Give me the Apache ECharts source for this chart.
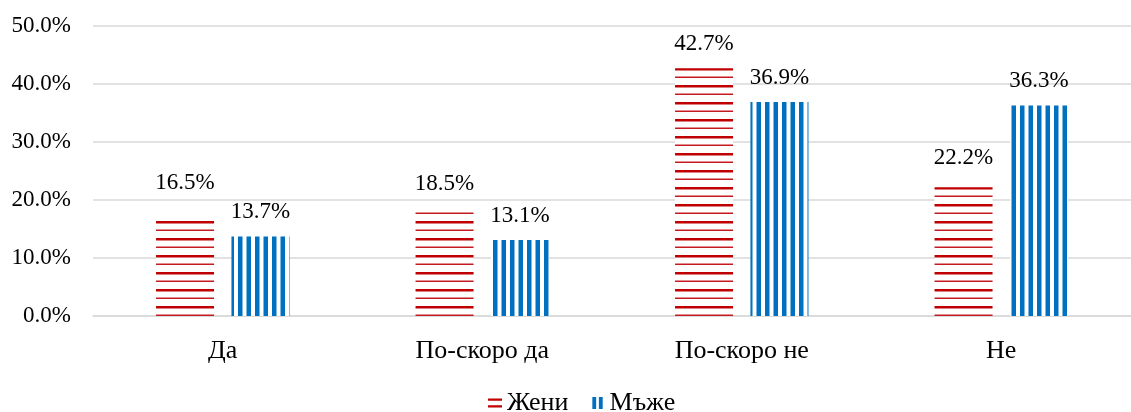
<!DOCTYPE html>
<html>
<head>
<meta charset="utf-8">
<script src="https://cdn.jsdelivr.net/npm/echarts@6/dist/echarts.min.js"></script>
<style>
  html, body { margin: 0; padding: 0; background: #fff; }
  #chart { width: 1131px; height: 412px; }
</style>
</head>
<body>
<div id="chart"></div>
<script>
// данни
var categories = ['Да', 'По-скоро да', 'По-скоро не', 'Не'];
var women = [16.5, 18.5, 42.7, 22.2];
var men = [13.7, 13.1, 36.9, 36.3];
var yTicks = [0, 10, 20, 30, 40, 50];

var fontFam = '"Liberation Serif", "DejaVu Serif", serif';

// шарка на червените колони - хоризонтални линии
function hatchRed() {
  var c = document.createElement('canvas');
  c.width = 8; c.height = 17;
  var ctx = c.getContext('2d');
  ctx.fillStyle = '#fff';
  ctx.fillRect(0, 0, 8, 17);
  ctx.fillStyle = '#C00000';
  ctx.fillRect(0, 0, 8, 2.5);
  ctx.fillStyle = '#C41A20';
  ctx.fillRect(0, 8.5, 8, 1.5);
  return c;
}
// шарка на сините колони - вертикални линии
function hatchBlue() {
  var c = document.createElement('canvas');
  c.width = 17; c.height = 8;
  var ctx = c.getContext('2d');
  ctx.fillStyle = '#fff';
  ctx.fillRect(0, 0, 17, 8);
  ctx.fillStyle = '#0070C0';
  ctx.fillRect(0, 0, 4.5, 8);
  ctx.fillRect(8.5, 0, 4.5, 8);
  return c;
}

// отместване на някои етикети (ръчно преместени в оригинала)
function withOffset(arr, extra) {
  return arr.map(function (v, i) {
    var o = { value: v };
    if (extra[i]) o.label = { offset: [0, extra[i]] };
    return o;
  });
}

var myChart = echarts.init(document.getElementById('chart'));

var option = {
  backgroundColor: '#fff',
  animation: false,
  grid: { left: 93, right: 0, top: 26, bottom: 96 },
  legend: {
    top: 385,
    left: 483,
    itemWidth: 14,
    itemHeight: 12,
    itemGap: 24,
    textStyle: { fontFamily: fontFam, fontSize: 26, color: '#000' },
    data: [
      { name: 'Жени', icon: 'path://M0,0H14V2.2H0Z M0,6.8H14V9H0Z', itemStyle: { color: '#C00000' } },
      { name: 'Мъже', icon: 'path://M0,0H3.5V11H0Z M6,0H9.5V11H6Z', itemStyle: { color: '#0070C0' } }
    ]
  },
  xAxis: {
    type: 'category',
    data: categories,
    axisLine: { lineStyle: { color: '#d9d9d9', width: 1.5 } },
    axisTick: { show: false },
    axisLabel: { fontFamily: fontFam, fontSize: 26, color: '#000', margin: 22 }
  },
  yAxis: {
    type: 'value',
    min: 0,
    max: 50,
    interval: 10,
    axisLine: { show: false },
    axisTick: { show: false },
    splitLine: { lineStyle: { color: '#d9d9d9', width: 1.5 } },
    axisLabel: {
      fontFamily: fontFam, fontSize: 23, color: '#000', margin: 22,
      formatter: function (v) { return v.toFixed(1) + '%'; }
    }
  },
  series: [
    {
      name: 'Жени',
      type: 'bar',
      barWidth: 58,
      barGap: '30%',
      itemStyle: { color: { image: hatchRed(), repeat: 'repeat' } },
      label: {
        show: true, position: 'top', distance: 13,
        fontFamily: fontFam, fontSize: 23, color: '#000',
        formatter: function (p) { return p.value.toFixed(1) + '%'; }
      },
      data: withOffset(women, [-13, 0, 0, -5])
    },
    {
      name: 'Мъже',
      type: 'bar',
      barWidth: 58,
      itemStyle: { color: { image: hatchBlue(), repeat: 'repeat' } },
      label: {
        show: true, position: 'top', distance: 13,
        fontFamily: fontFam, fontSize: 23, color: '#000',
        formatter: function (p) { return p.value.toFixed(1) + '%'; }
      },
      data: withOffset(men, [0, 0, 0, 0])
    }
  ]
};

myChart.setOption(option);
window.addEventListener('resize', function () { myChart.resize(); });
</script>
</body>
</html>
